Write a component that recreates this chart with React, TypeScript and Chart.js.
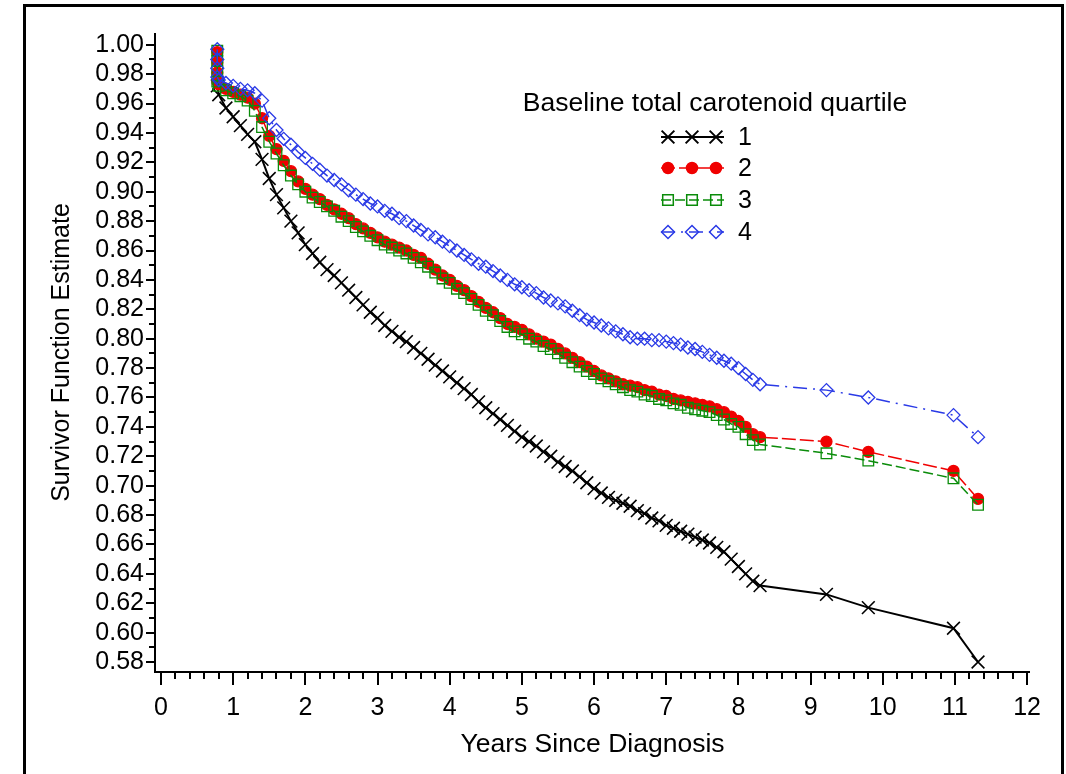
import React, { useEffect, useRef } from 'react';
import { Chart, registerables } from 'chart.js';

Chart.register(...registerables);

const FONT = "'Liberation Sans', Arial, Helvetica, sans-serif";

// ---- data ----
const startTime = 0.78;
const denseTimes = [
  0.8, 0.9, 1.0, 1.1, 1.2, 1.3, 1.4, 1.5, 1.6, 1.7, 1.8, 1.9,
  2.0, 2.1, 2.2, 2.3, 2.4, 2.5, 2.6, 2.7, 2.8, 2.9,
  3.0, 3.1, 3.2, 3.3, 3.4, 3.5, 3.6, 3.7, 3.8, 3.9,
  4.0, 4.1, 4.2, 4.3, 4.4, 4.5, 4.6, 4.7, 4.8, 4.9,
  5.0, 5.1, 5.2, 5.3, 5.4, 5.5, 5.6, 5.7, 5.8, 5.9,
  6.0, 6.1, 6.2, 6.3, 6.4, 6.5, 6.6, 6.7, 6.8, 6.9,
  7.0, 7.1, 7.2, 7.3, 7.4, 7.5, 7.6, 7.7, 7.8, 7.9,
  8.0, 8.1, 8.2, 8.3,
];
const tailTimes = [9.22, 9.8, 10.98, 11.32];

const q1Start = [0.972];
const q1Dense = [
  0.966, 0.957, 0.951, 0.945, 0.939, 0.934, 0.922, 0.909, 0.898, 0.889, 0.880, 0.872,
  0.864, 0.858, 0.852, 0.847, 0.843, 0.838, 0.833, 0.828, 0.823, 0.818,
  0.814, 0.809, 0.805, 0.801, 0.798, 0.794, 0.790, 0.786, 0.782, 0.778,
  0.774, 0.770, 0.766, 0.762, 0.757, 0.753, 0.749, 0.745, 0.741, 0.737,
  0.733, 0.730, 0.727, 0.723, 0.720, 0.716, 0.713, 0.710, 0.706, 0.702,
  0.698, 0.695, 0.692, 0.690, 0.688, 0.686, 0.683, 0.681, 0.678, 0.676,
  0.673, 0.671, 0.669, 0.667, 0.665, 0.663, 0.661, 0.658, 0.655, 0.650,
  0.645, 0.640, 0.635, 0.632,
];
const q1Tail = [0.626, 0.617, 0.603, 0.580];

const q2Start = [0.995, 0.988, 0.981, 0.975];
const q2Dense = [
  0.973, 0.970, 0.968, 0.966, 0.964, 0.960, 0.950, 0.938, 0.929, 0.921, 0.914, 0.907,
  0.902, 0.898, 0.895, 0.891, 0.888, 0.885, 0.882, 0.878, 0.875, 0.872,
  0.869, 0.866, 0.864, 0.862, 0.860, 0.857, 0.855, 0.851, 0.847, 0.843,
  0.840, 0.836, 0.833, 0.829, 0.825, 0.821, 0.818, 0.814, 0.810, 0.808,
  0.806, 0.803, 0.800, 0.798, 0.796, 0.793, 0.790, 0.787, 0.784, 0.781,
  0.778, 0.775, 0.773, 0.771, 0.769, 0.768, 0.767, 0.765, 0.764, 0.762,
  0.761, 0.759, 0.758, 0.757, 0.756, 0.755, 0.754, 0.752, 0.750, 0.747,
  0.744, 0.740, 0.735, 0.733,
];
const q2Tail = [0.730, 0.723, 0.710, 0.691];

const q3Start = [0.996, 0.989, 0.982, 0.975];
const q3Dense = [
  0.972, 0.969, 0.967, 0.965, 0.962, 0.955, 0.944, 0.934, 0.926, 0.918, 0.911, 0.905,
  0.900, 0.896, 0.893, 0.890, 0.887, 0.883, 0.880, 0.876, 0.873, 0.870,
  0.867, 0.864, 0.862, 0.860, 0.858, 0.855, 0.852, 0.849, 0.845, 0.841,
  0.838, 0.834, 0.831, 0.827, 0.823, 0.819, 0.816, 0.812, 0.808, 0.805,
  0.803, 0.800, 0.798, 0.795, 0.793, 0.790, 0.787, 0.784, 0.781, 0.778,
  0.776, 0.773, 0.771, 0.769, 0.767, 0.765, 0.764, 0.762, 0.761, 0.759,
  0.758, 0.756, 0.755, 0.753, 0.752, 0.751, 0.750, 0.748, 0.745, 0.742,
  0.740, 0.735, 0.731, 0.728,
];
const q3Tail = [0.722, 0.717, 0.705, 0.687];

const q4Start = [0.997, 0.990, 0.984, 0.978];
const q4Dense = [
  0.976, 0.974, 0.972, 0.970, 0.969, 0.967, 0.962, 0.950, 0.942, 0.936, 0.932, 0.927,
  0.923, 0.919, 0.915, 0.911, 0.908, 0.905, 0.901, 0.898, 0.895, 0.892,
  0.890, 0.887, 0.885, 0.882, 0.880, 0.877, 0.874, 0.871, 0.869, 0.866,
  0.863, 0.860, 0.857, 0.854, 0.851, 0.849, 0.846, 0.843, 0.840, 0.837,
  0.835, 0.833, 0.831, 0.828, 0.826, 0.824, 0.822, 0.819, 0.816, 0.813,
  0.811, 0.809, 0.807, 0.805, 0.803, 0.801, 0.800, 0.800, 0.799, 0.799,
  0.798, 0.797, 0.796, 0.794, 0.793, 0.791, 0.789, 0.787, 0.785, 0.783,
  0.780, 0.776, 0.772, 0.769,
];
const q4Tail = [0.765, 0.760, 0.748, 0.733];

const seriesLabels = ['1', '2', '3', '4'];
const legendTitle = 'Baseline total carotenoid quartile';
const xTitle = 'Years Since Diagnosis';
const yTitle = 'Survivor Function Estimate';
const xTickValues = [0, 1, 2, 3, 4, 5, 6, 7, 8, 9, 10, 11, 12];
const yTickValues = [
  0.58, 0.6, 0.62, 0.64, 0.66, 0.68, 0.7, 0.72, 0.74, 0.76, 0.78,
  0.8, 0.82, 0.84, 0.86, 0.88, 0.9, 0.92, 0.94, 0.96, 0.98, 1.0,
];

function buildPoints(start: number[], dense: number[], tail: number[]) {
  const pts: { x: number; y: number }[] = [];
  start.forEach((v) => pts.push({ x: startTime, y: v }));
  dense.forEach((v, i) => pts.push({ x: denseTimes[i], y: v }));
  tail.forEach((v, i) => pts.push({ x: tailTimes[i], y: v }));
  return pts;
}

const STYLES = [
  { color: '#000000', point: 'crossRot', radius: 9, fill: 'rgba(0,0,0,0)', dash: [] as number[], lw: 2 },
  { color: '#f00000', point: 'circle', radius: 5.5, fill: '#f00000', dash: [14, 4], lw: 1.5 },
  { color: '#0a8c0a', point: 'rect', radius: 7.5, fill: 'rgba(0,0,0,0)', dash: [10, 4], lw: 1.5 },
  { color: '#2a3ae6', point: 'rectRot', radius: 6.5, fill: 'rgba(0,0,0,0)', dash: [14, 6, 2, 6], lw: 1.5 },
];

function drawMarker(ctx: CanvasRenderingContext2D, style: string, x: number, y: number, r: number, color: string, fill: string) {
  ctx.save();
  ctx.setLineDash([]);
  ctx.strokeStyle = color;
  ctx.fillStyle = fill;
  ctx.lineWidth = 1.5;
  ctx.beginPath();
  if (style === 'circle') {
    ctx.arc(x, y, r, 0, Math.PI * 2);
    ctx.fill();
    ctx.stroke();
  } else if (style === 'crossRot') {
    const o = Math.SQRT1_2 * r;
    ctx.moveTo(x - o, y - o); ctx.lineTo(x + o, y + o);
    ctx.moveTo(x + o, y - o); ctx.lineTo(x - o, y + o);
    ctx.lineWidth = 2;
    ctx.stroke();
  } else if (style === 'rect') {
    const s = Math.SQRT1_2 * r;
    ctx.rect(x - s, y - s, 2 * s, 2 * s);
    ctx.stroke();
  } else if (style === 'rectRot') {
    ctx.moveTo(x - r, y); ctx.lineTo(x, y - r); ctx.lineTo(x + r, y); ctx.lineTo(x, y + r); ctx.closePath();
    ctx.stroke();
  }
  ctx.restore();
}

const framePlugin = {
  id: 'frame',
  beforeDraw(chart: any) {
    const { ctx } = chart;
    ctx.save();
    ctx.fillStyle = '#ffffff';
    ctx.fillRect(0, 0, chart.width, chart.height);
    ctx.strokeStyle = '#000';
    ctx.lineWidth = 3;
    ctx.strokeRect(24.5, 5.5, 1038, 800);
    ctx.restore();
  },
};

const axisPlugin = {
  id: 'axisTicks',
  afterDraw(chart: any) {
    const { ctx, chartArea: a } = chart;
    const xs = chart.scales.x;
    const ys = chart.scales.y;
    ctx.save();
    ctx.strokeStyle = '#000';
    ctx.lineWidth = 2;
    ctx.setLineDash([]);
    ctx.beginPath();
    ctx.moveTo(a.left, a.top);
    ctx.lineTo(a.left, a.bottom);
    ctx.lineTo(a.right, a.bottom);
    ctx.stroke();
    ctx.beginPath();
    yTickValues.forEach((v, i) => {
      const py = Math.round(ys.getPixelForValue(v));
      ctx.moveTo(a.left - 9, py);
      ctx.lineTo(a.left, py);
      if (i < yTickValues.length - 1) {
        const pm = Math.round(ys.getPixelForValue((v + yTickValues[i + 1]) / 2));
        ctx.moveTo(a.left - 6, pm);
        ctx.lineTo(a.left, pm);
      }
    });
    xTickValues.forEach((v, i) => {
      const px = Math.round(xs.getPixelForValue(v));
      ctx.moveTo(px, a.bottom);
      ctx.lineTo(px, a.bottom + 13);
      if (i < xTickValues.length - 1) {
        const next = xTickValues[i + 1];
        for (let k = 1; k < 5; k++) {
          const pm = Math.round(xs.getPixelForValue(v + ((next - v) * k) / 5));
          ctx.moveTo(pm, a.bottom);
          ctx.lineTo(pm, a.bottom + 7);
        }
      }
    });
    ctx.stroke();
    ctx.restore();
  },
};

const legendPlugin = {
  id: 'customLegend',
  afterDraw(chart: any) {
    const { ctx } = chart;
    ctx.save();
    ctx.fillStyle = '#000';
    ctx.font = `26.5px ${FONT}`;
    ctx.textAlign = 'center';
    ctx.textBaseline = 'middle';
    ctx.fillText(legendTitle, 715, 104);
    const rows = [137, 168, 200, 232];
    seriesLabels.forEach((lab, i) => {
      const st = STYLES[i];
      const y = rows[i];
      ctx.save();
      ctx.strokeStyle = st.color;
      ctx.lineWidth = st.lw;
      ctx.setLineDash(st.dash);
      ctx.beginPath();
      ctx.moveTo(661, y);
      ctx.lineTo(724, y);
      ctx.stroke();
      ctx.restore();
      [668, 692, 716].forEach((mx) => drawMarker(ctx, st.point, mx, y, st.radius, st.color, st.fill));
      ctx.fillStyle = '#000';
      ctx.textAlign = 'left';
      ctx.textBaseline = 'middle';
      ctx.font = `25px ${FONT}`;
      ctx.fillText(lab, 738, y + 1);
    });
    ctx.restore();
  },
};

export default function App() {
  const canvasRef = useRef<HTMLCanvasElement | null>(null);

  useEffect(() => {
    if (!canvasRef.current) return;
    const starts = [q1Start, q2Start, q3Start, q4Start];
    const denses = [q1Dense, q2Dense, q3Dense, q4Dense];
    const tails = [q1Tail, q2Tail, q3Tail, q4Tail];
    const datasets = seriesLabels.map((lab, i) => ({
      label: lab,
      data: buildPoints(starts[i], denses[i], tails[i]),
      showLine: true,
      borderColor: STYLES[i].color,
      borderWidth: STYLES[i].lw,
      borderDash: STYLES[i].dash,
      pointStyle: STYLES[i].point,
      pointRadius: STYLES[i].radius,
      pointBorderColor: STYLES[i].color,
      pointBackgroundColor: STYLES[i].fill,
      pointBorderWidth: i === 0 ? 1.6 : 1.3,
      tension: 0,
      order: 3 - i,
    }));

    const chart = new Chart(canvasRef.current, {
      type: 'scatter',
      data: { datasets: datasets as any },
      options: {
        responsive: false,
        animation: false,
        events: [],
        layout: { padding: { left: 0, right: 36, top: 33, bottom: 0 } },
        plugins: { legend: { display: false }, tooltip: { enabled: false } },
        scales: {
          x: {
            type: 'linear',
            min: -0.083,
            max: 12.04,
            afterBuildTicks: (s: any) => {
              s.ticks = xTickValues.map((v) => ({ value: v }));
            },
            afterFit: (s: any) => {
              s.height = 102;
            },
            ticks: {
              autoSkip: false,
              maxRotation: 0,
              padding: 21,
              color: '#000',
              font: { family: FONT, size: 25 },
              callback: (v: any) => String(v),
            },
            grid: { display: false, drawTicks: false },
            border: { display: false },
            title: {
              display: true,
              text: xTitle,
              color: '#000',
              font: { family: FONT, size: 26.5 },
              padding: { top: 0, bottom: 13 },
            },
          },
          y: {
            type: 'linear',
            min: 0.5732,
            max: 1.008,
            afterBuildTicks: (s: any) => {
              s.ticks = yTickValues.map((v) => ({ value: v }));
            },
            afterFit: (s: any) => {
              s.width = 155;
            },
            ticks: {
              autoSkip: false,
              padding: 11,
              color: '#000',
              font: { family: FONT, size: 25 },
              callback: (v: any) => Number(v).toFixed(2),
            },
            grid: { display: false, drawTicks: false },
            border: { display: false },
            title: {
              display: true,
              text: yTitle,
              color: '#000',
              font: { family: FONT, size: 25 },
              padding: { top: 47, bottom: 0 },
            },
          },
        },
      },
      plugins: [framePlugin, axisPlugin, legendPlugin],
    });
    return () => chart.destroy();
  }, []);

  return (
    <div style={{ position: 'absolute', left: 0, top: 0, width: 1066, height: 774, background: '#fff' }}>
      <canvas ref={canvasRef} width={1066} height={774} style={{ display: 'block' }} />
    </div>
  );
}
